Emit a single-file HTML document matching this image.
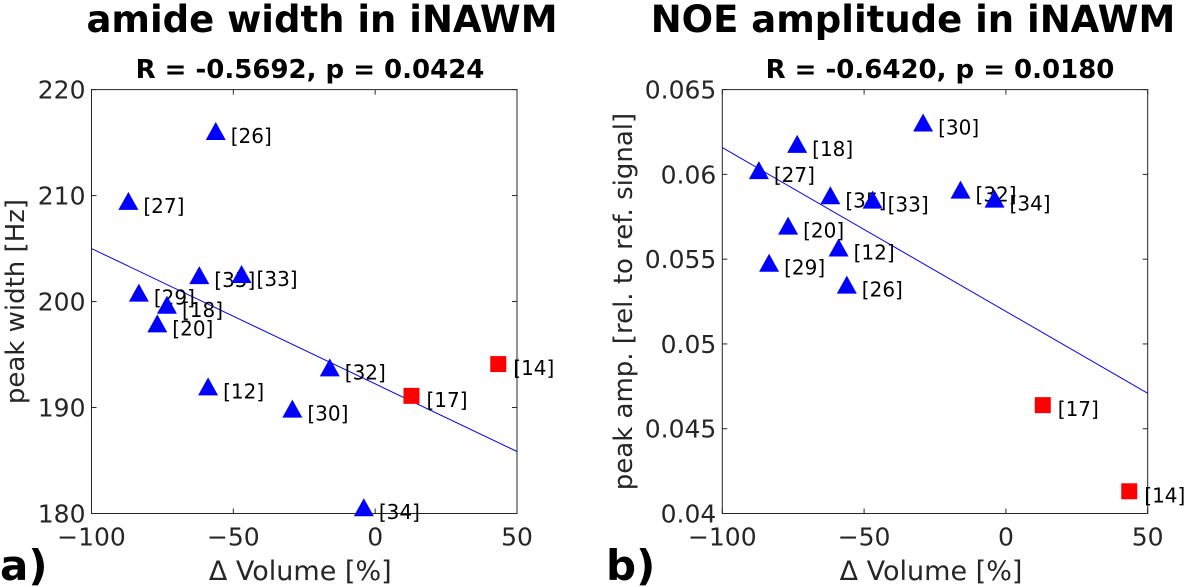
<!DOCTYPE html>
<html><head><meta charset="utf-8"><style>
body{margin:0;background:#fff}
svg{display:block;font-family:"DejaVu Sans","Liberation Sans",sans-serif}
</style></head><body>
<svg id="chart" width="1199" height="587"></svg>
<script>
const xTicks=[-100,-50,0,50];
const aLabels=["[26]","[27]","[35]","[33]","[29]","[18]","[20]","[12]","[32]","[30]","[34]"];
const aX=[-56.2,-87.0,-62.0,-47.1,-83.3,-73.4,-76.8,-58.9,-16.0,-29.2,-4.0];
const aY=[216.0,209.4,202.4,202.5,200.75,199.6,197.85,191.9,193.7,189.8,180.5];
const aSqLabels=["[17]","[14]"];
const aSqX=[12.8,43.4];
const aSqY=[191.1,194.1];
const aFit=[205.0,185.85];
const aYTicks=[180,190,200,210,220];
const bLabels=["[30]","[18]","[27]","[35]","[33]","[32]","[34]","[20]","[12]","[29]","[26]"];
const bX=[-29.2,-73.6,-87.1,-61.9,-47.0,-16.0,-4.0,-76.8,-59.0,-83.5,-56.1];
const bY=[0.0630,0.06174,0.06019,0.05871,0.05845,0.05904,0.05851,0.05692,0.05563,0.05473,0.05344];
const bSqLabels=["[17]","[14]"];
const bSqX=[13.0,43.5];
const bSqY=[0.04639,0.04131];
const bFit=[0.06158,0.04709];
const bYTicks=[0.04,0.045,0.05,0.055,0.06,0.065];
const bYTickText=["0.04","0.045","0.05","0.055","0.06","0.065"];

const svg=document.getElementById('chart');
const NS='http://www.w3.org/2000/svg';
function mk(tag,attrs,parent){const e=document.createElementNS(NS,tag);for(const k in attrs)e.setAttribute(k,attrs[k]);(parent||svg).appendChild(e);return e;}
function txt(s,attrs,parent){const e=mk('text',attrs,parent);e.textContent=s;return e;}

function panel(o){
  const g=mk('g',{});
  
  
  const sx=v=>o.x0+(v-(-100))/150*(o.x1-o.x0);
  const sy=v=>o.y1-(v-o.ymin)/(o.ymax-o.ymin)*(o.y1-o.y0);
  const t=txt(o.title,{x:o.tcx,y:32,'font-size':37,'font-weight':'bold','text-anchor':'middle',fill:'#000'},g);
  
  
  const st=txt(o.sub,{x:o.scx,y:78,'font-size':26,'font-weight':'bold','text-anchor':'middle',fill:'#000'},g);
  
  
  const box=mk('rect',{x:o.x0,y:o.y0,width:o.x1-o.x0,height:o.y1-o.y0,fill:'#fff',stroke:'#262626','stroke-width':1},g);
  
  
  xTicks.forEach(v=>{
    const x=sx(v);
    mk('line',{x1:x,x2:x,y1:o.y1,y2:o.y1-5,stroke:'#262626'},g);
    mk('line',{x1:x,x2:x,y1:o.y0,y2:o.y0+5,stroke:'#262626'},g);
    const l=txt(String(v).replace('-','\u2212'),{x:x,y:o.y1+32,'font-size':25,'text-anchor':'middle',fill:'#262626'},g);
    
    
  });
  o.yTicks.forEach((v,i)=>{
    const y=sy(v);
    mk('line',{x1:o.x0,x2:o.x0+5,y1:y,y2:y,stroke:'#262626'},g);
    mk('line',{x1:o.x1,x2:o.x1-5,y1:y,y2:y,stroke:'#262626'},g);
    const l=txt(o.yTickText[i],{x:o.x0-6,y:y+9,'font-size':25,'text-anchor':'end',fill:'#262626'},g);
    
    
  });
  const xl=txt('\u0394 Volume [%]',{x:(o.x0+o.x1)/2-4,y:580,'font-size':27,'text-anchor':'middle',fill:'#262626'},g);
  
  
  const yl=txt(o.ylab,{x:0,y:0,'font-size':26,'text-anchor':'middle',fill:'#262626',transform:`translate(${o.ylx},${(o.y0+o.y1)/2}) rotate(-90)`},g);
  
  
  const pl=txt(o.panel,{x:o.plx,y:580,'font-size':42,'font-weight':'bold',fill:'#000'},g);
  
  
  const fit=mk('line',{x1:sx(-100),x2:sx(50),y1:sy(o.fit[0]),y2:sy(o.fit[1]),stroke:'#0000ff','stroke-width':1},g);
  
  
  o.xs.forEach((v,i)=>{
    const x=sx(v),y=sy(o.ys[i]);
    const p=mk('polygon',{points:`${x},${y-10} ${x-10},${y+8} ${x+10},${y+8}`,fill:'#0000ff'},g);
    
    
    const l=txt(o.labels[i],{x:x+15,y:y+11,'font-size':20,fill:'#000'},g);
    
    
  });
  o.sqx.forEach((v,i)=>{
    const x=sx(v),y=sy(o.sqy[i]);
    const p=mk('rect',{x:x-8,y:y-8,width:16,height:16,fill:'#ff0000'},g);
    
    
    const l=txt(o.sqLabels[i],{x:x+15,y:y+11,'font-size':20,fill:'#000'},g);
    
    
  });
}
panel({name:'panel-a',x0:91.5,x1:517,y0:89.6,y1:513.5,ymin:180,ymax:220,yTicks:aYTicks,yTickText:aYTicks.map(String),
  title:'amide width in iNAWM',tcx:322,scx:310,sub:'R = -0.5692, p = 0.0424',ylab:'peak width [Hz]',ylx:24,panel:'a)',plx:0,
  xs:aX,ys:aY,labels:aLabels,sqx:aSqX,sqy:aSqY,sqLabels:aSqLabels,fit:aFit});
panel({name:'panel-b',x0:722.3,x1:1147.7,y0:89.6,y1:513.5,ymin:0.04,ymax:0.065,yTicks:bYTicks,yTickText:bYTickText,
  title:'NOE amplitude in iNAWM',tcx:913,scx:940,sub:'R = -0.6420, p = 0.0180',ylab:'peak amp. [rel. to ref. signal]',ylx:632,panel:'b)',plx:606,
  xs:bX,ys:bY,labels:bLabels,sqx:bSqX,sqy:bSqY,sqLabels:bSqLabels,fit:bFit});
</script>
</body></html>
